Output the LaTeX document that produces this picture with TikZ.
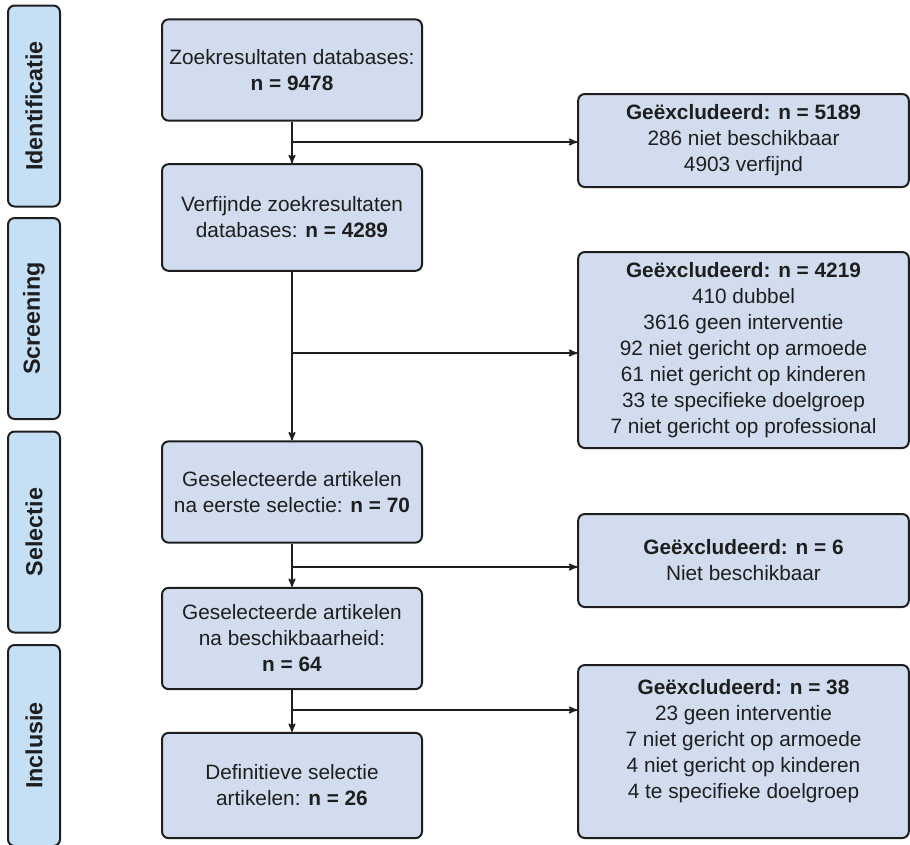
\documentclass[tikz,border=0pt]{standalone}
\usepackage{fontspec}
\setmainfont{Liberation Sans}
\usetikzlibrary{arrows}
\definecolor{boxblue}{HTML}{D1DCEE}
\definecolor{stageblue}{HTML}{C5E0F5}
\definecolor{inkgray}{HTML}{1E1E1E}

\begin{document}
\begin{tikzpicture}[x=0.75pt, y=-0.75pt, >=stealth',
    flowbox/.style={draw=inkgray, line width=1.5pt, rounded corners=5pt, fill=boxblue,
      align=center, text=inkgray, font=\fontsize{15.6}{19.5}\selectfont,
      minimum width=195pt, minimum height=76pt},
    exclbox/.style={flowbox, minimum width=248pt},
    stagebox/.style={draw=inkgray, line width=1.5pt, rounded corners=5pt, fill=stageblue,
      rotate=90, minimum width=150.75pt, minimum height=39pt, text=inkgray,
      font=\fontsize{17.5}{20}\selectfont\bfseries},
    flowline/.style={->, line width=1.2pt, draw=inkgray}]
         \useasboundingbox (0, 0) rectangle (910, 844);
         % stages
         \node [stagebox] (ID) at (34, 106) {Identificatie};
         \node [stagebox] (SC) at (34, 318.5) {Screening};
         \node [stagebox] (SE) at (34, 532) {Selectie};
         \node [stagebox] (IN) at (34, 745.5) {Inclusie};
         % main flow
         \node [flowbox] (M1) at (292, 70) {Zoekresultaten databases:\\ \textbf{n = 9478}};
         \node [flowbox, minimum height=80pt] (M2) at (292, 217.5) {Verfijnde zoekresultaten\\ databases: \textbf{n = 4289}};
         \node [flowbox] (M3) at (292, 492) {Geselecteerde artikelen\\ na eerste selectie: \textbf{n = 70}};
         \node [flowbox] (M4) at (292, 638.5) {Geselecteerde artikelen\\ na beschikbaarheid:\\ \textbf{n = 64}};
         \node [flowbox, minimum height=79pt] (M5) at (292, 785.5) {Definitieve selectie\\ artikelen: \textbf{n = 26}};
         % exclusions
         \node [exclbox, minimum height=69.75pt] (X1) at (743.5, 140.5) {\textbf{Geëxcludeerd: n = 5189}\\ 286 niet beschikbaar\\ 4903 verfijnd};
         \node [exclbox, minimum height=147pt] (X2) at (743.5, 350) {\textbf{Geëxcludeerd: n = 4219}\\ 410 dubbel\\ 3616 geen interventie\\ 92 niet gericht op armoede\\ 61 niet gericht op kinderen\\ 33 te specifieke doelgroep\\ 7 niet gericht op professional};
         \node [exclbox, minimum height=69.75pt] (X3) at (743.5, 560.5) {\textbf{Geëxcludeerd: n = 6}\\ Niet beschikbaar};
         \node [exclbox, minimum height=129.75pt] (X4) at (743.5, 751.5) {\textbf{Geëxcludeerd: n = 38}\\ 23 geen interventie\\ 7 niet gericht op armoede\\ 4 niet gericht op kinderen\\ 4 te specifieke doelgroep\\ \mbox{}};
         \coordinate (B1) at (292, 142);
         \coordinate (B2) at (292, 353);
         \coordinate (B3) at (292, 567);
         \coordinate (B4) at (292, 710);
         \draw [flowline] (M1) -- (M2);
         \draw [flowline] (M2) -- (M3);
         \draw [flowline] (M3) -- (M4);
         \draw [flowline] (M4) -- (M5);
         \draw [flowline] (B1) -- (B1 -| X1.west);
         \draw [flowline] (B2) -- (B2 -| X2.west);
         \draw [flowline] (B3) -- (B3 -| X3.west);
         \draw [flowline] (B4) -- (B4 -| X4.west);
\end{tikzpicture}
\end{document}
